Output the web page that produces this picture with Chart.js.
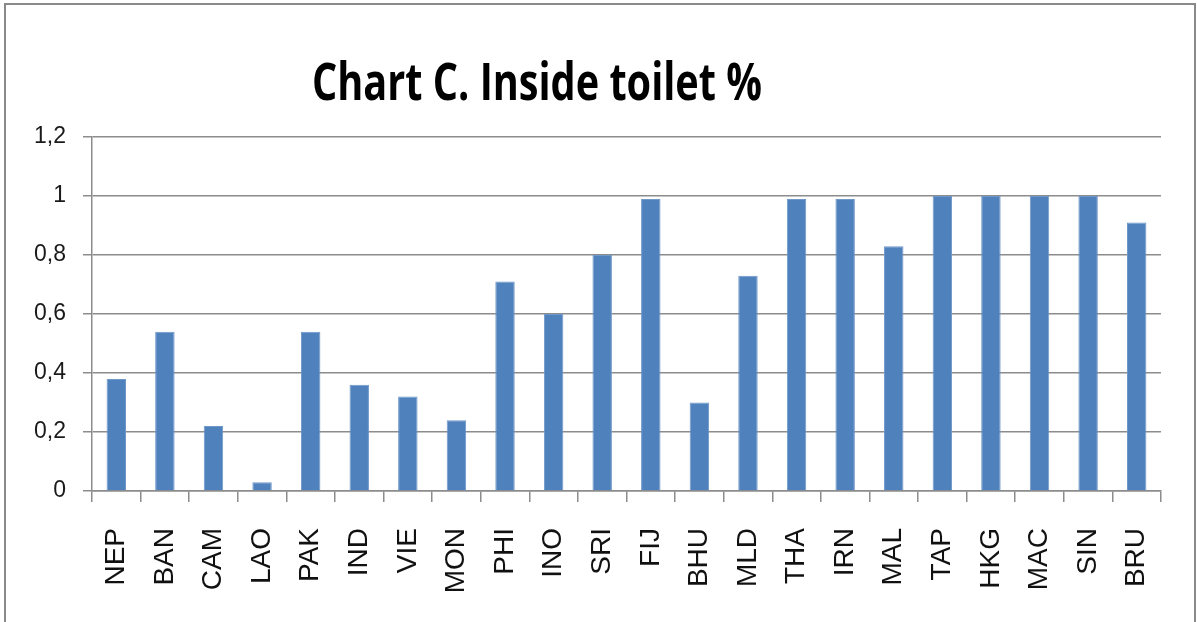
<!DOCTYPE html>
<html>
<head>
<meta charset="utf-8">
<script src="https://cdn.jsdelivr.net/npm/chart.js@4"></script>
<style>
  html, body { margin: 0; padding: 0; background: #fff; overflow: hidden; }
  #wrap { position: relative; width: 1197px; height: 622px; }
  #frame { position: absolute; left: 4px; top: 3px; width: 1192px; height: 700px;
           box-sizing: border-box; border: 2px solid #8a8a8a; pointer-events: none; }
  canvas { position: absolute; left: 0; top: 0; }
</style>
</head>
<body>
<div id="wrap">
  <canvas id="c" width="1197" height="622"></canvas>
  <div id="frame"></div>
</div>
<script>
const chartTitle = 'Chart C. Inside toilet %';
const categories = ['NEP','BAN','CAM','LAO','PAK','IND','VIE','MON','PHI','INO','SRI','FIJ','BHU','MLD','THA','IRN','MAL','TAP','HKG','MAC','SIN','BRU'];
const insideToilet = [0.38,0.54,0.22,0.03,0.54,0.36,0.32,0.24,0.71,0.60,0.80,0.99,0.30,0.73,0.99,0.99,0.83,1.00,1.00,1.00,1.00,0.91];
const yTickLabels = ['0','0,2','0,4','0,6','0,8','1','1,2'];

const gridGray = '#8c8c8c';

const titlePlugin = {
  id: 'sideTitle',
  afterDraw(chart) {
    const ctx = chart.ctx;
    ctx.save();
    ctx.font = 'bold 52px "Open Sans", "Liberation Sans", sans-serif';
    ctx.fillStyle = '#000';
    ctx.textBaseline = 'alphabetic';
    ctx.textAlign = 'center';
    const w = ctx.measureText(chartTitle).width;
    const targetW = 450;
    ctx.translate(537, 100);
    ctx.scale(targetW / w, 1);
    ctx.fillText(chartTitle, 0, 0);
    ctx.restore();
  }
};

new Chart(document.getElementById('c'), {
  type: 'bar',
  data: {
    labels: categories,
    datasets: [{
      label: 'Inside toilet %',
      data: insideToilet,
      backgroundColor: '#4F81BD',
      borderColor: '#6f97c8',
      borderWidth: 1,
      categoryPercentage: 1.0,
      barPercentage: 0.4
    }]
  },
  options: {
    responsive: false,
    animation: false,
    devicePixelRatio: 1,
    layout: { padding: { top: 137, right: 31, bottom: 0, left: 0 } },
    plugins: {
      legend: { display: false },
      title: { display: false },
      tooltip: { enabled: false }
    },
    scales: {
      x: {
        grid: { display: true, drawOnChartArea: false, drawTicks: true, tickLength: 11, color: gridGray, lineWidth: 1.5, offset: true },
        border: { display: true, color: gridGray, width: 1.5 },
        ticks: {
          minRotation: 90, maxRotation: 90, autoSkip: false, padding: 26,
          color: '#111',
          font: { family: '"Liberation Sans", Arial, sans-serif', size: 28 }
        },
        afterFit(scale) { scale.height = 131; }
      },
      y: {
        min: 0, max: 1.2,
        grid: { color: gridGray, lineWidth: 1.5, tickLength: 9, drawTicks: true },
        border: { display: true, color: gridGray, width: 1.5 },
        ticks: {
          stepSize: 0.2, padding: 17, color: '#1a1a1a',
          font: { family: '"Liberation Sans", Arial, sans-serif', size: 23 },
          callback: (v, i) => yTickLabels[i]
        },
        afterFit(scale) { scale.width = 92; }
      }
    }
  },
  plugins: [titlePlugin]
});
</script>
</body>
</html>
